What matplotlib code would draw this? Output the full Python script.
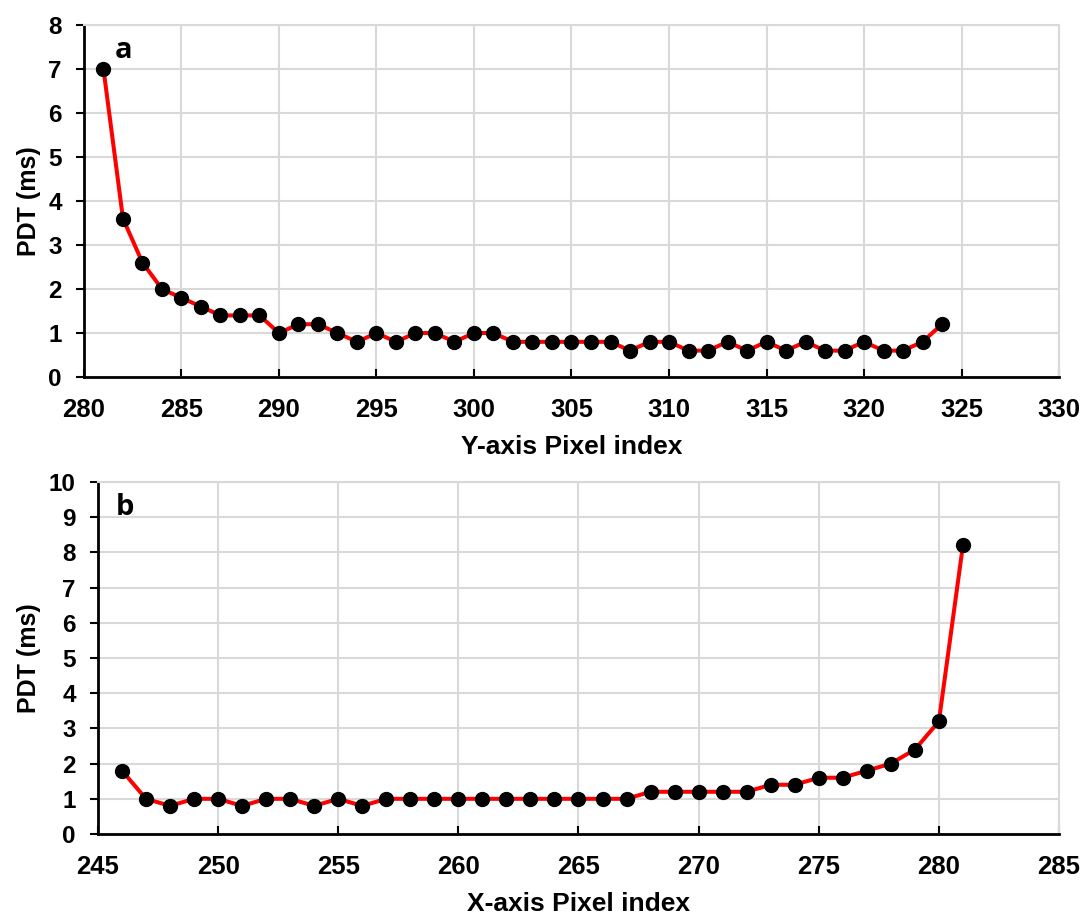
import matplotlib.pyplot as plt

# panel a : PDT along the Y axis
xa = list(range(281, 325))
pdt_a = [7.0, 3.6, 2.6, 2.0, 1.8, 1.6, 1.4, 1.4, 1.4, 1.0,
         1.2, 1.2, 1.0, 0.8, 1.0, 0.8, 1.0, 1.0, 0.8, 1.0,
         1.0, 0.8, 0.8, 0.8, 0.8, 0.8, 0.8, 0.6, 0.8, 0.8,
         0.6, 0.6, 0.8, 0.6, 0.8, 0.6, 0.8, 0.6, 0.6, 0.8,
         0.6, 0.6, 0.8, 1.2]

# panel b : PDT along the X axis
xb = list(range(246, 282))
pdt_b = [1.8, 1.0, 0.8, 1.0, 1.0, 0.8, 1.0, 1.0, 0.8, 1.0,
         0.8, 1.0, 1.0, 1.0, 1.0, 1.0, 1.0, 1.0, 1.0, 1.0,
         1.0, 1.0, 1.2, 1.2, 1.2, 1.2, 1.2, 1.4, 1.4, 1.6,
         1.6, 1.8, 2.0, 2.4, 3.2, 8.2]

plt.rcParams["font.family"] = ["Liberation Sans", "DejaVu Sans"]

fig = plt.figure(figsize=(10.92, 9.14), dpi=100)
ax1 = fig.add_axes([0.0769, 0.5875, 0.8929, 0.3851])
ax2 = fig.add_axes([0.0897, 0.0875, 0.8801, 0.3851])

panels = [
    (ax1, xa, pdt_a, "a", "Y-axis Pixel index", (280, 330), 8, 0.032, -0.044),
    (ax2, xb, pdt_b, "b", "X-axis Pixel index", (245, 285), 10, 0.018, -0.059),
]

for ax, x, y, tag, xlabel, xlim, ymax, tagx, ylabx in panels:
    ax.plot(x, y, color="#ff0000", lw=2.9, marker="o", ms=10,
            mfc="black", mec="black", zorder=3, clip_on=False)
    ax.set_xlim(*xlim)
    ax.set_ylim(0, ymax)
    ax.set_xticks(range(xlim[0], xlim[1] + 1, 5))
    ax.set_yticks(range(0, ymax + 1))
    ax.grid(True, color="#d9d9d9", lw=1.5)
    ax.set_axisbelow(True)
    for s in ["top", "right"]:
        ax.spines[s].set_color("#d9d9d9")
        ax.spines[s].set_linewidth(1.5)
    for s in ["left", "bottom"]:
        ax.spines[s].set_linewidth(2)
    ax.tick_params(axis="y", direction="out", length=6, width=1.5,
                   labelsize=17.5, pad=10)
    ax.tick_params(axis="x", direction="in", length=6, width=1.5,
                   labelsize=18.5, pad=15)
    for lab in ax.get_xticklabels() + ax.get_yticklabels():
        lab.set_fontweight("bold")
    ax.set_xlabel(xlabel, fontsize=19, fontweight="bold")
    ax.set_ylabel("PDT (ms)", fontsize=18, fontweight="bold")
    ax.xaxis.set_label_coords(0.5, -0.165)
    ax.yaxis.set_label_coords(ylabx, 0.5)
    ax.text(tagx, 0.905, tag, transform=ax.transAxes, fontsize=21,
            fontweight="bold", va="baseline", ha="left",
            family=["Open Sans", "DejaVu Sans"])

fig.savefig("out.png", dpi=100)
